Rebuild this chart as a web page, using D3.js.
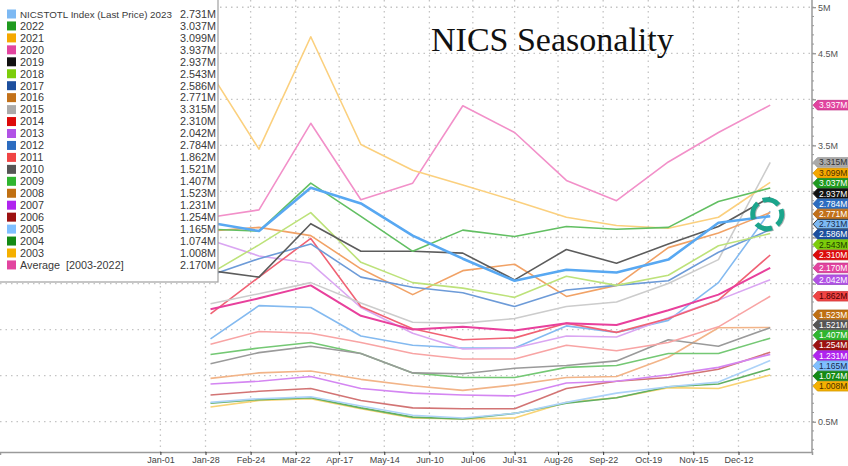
<!DOCTYPE html>
<html><head><meta charset="utf-8">
<script src="https://cdn.jsdelivr.net/npm/d3@7"></script>
<style>body{margin:0;background:#fff;overflow:hidden} svg{display:block;font-family:"Liberation Sans",Arial,sans-serif;}</style>
</head><body><svg id="c" width="848" height="466"></svg>
<script>
// ---- data ----
const monthEnds = ["2024-01-31","2024-02-29","2024-03-31","2024-04-30","2024-05-31","2024-06-30",
  "2024-07-31","2024-08-31","2024-09-30","2024-10-31","2024-11-30","2024-12-31"];
const tickDates = ["2024-01-01","2024-01-28","2024-02-24","2024-03-22","2024-04-17","2024-05-14","2024-06-10",
  "2024-07-06","2024-07-31","2024-08-26","2024-09-22","2024-10-19","2024-11-15","2024-12-12"];
const tickLabels = ["Jan-01","Jan-28","Feb-24","Mar-22","Apr-17","May-14","Jun-10","Jul-06","Jul-31",
  "Aug-26","Sep-22","Oct-19","Nov-15","Dec-12"];
const yTicks = [0.5,1,1.5,2,2.5,3,3.5,4,4.5,5];

const s2023 = [2.66,2.57,3.04,2.87,2.52,2.27,2.03,2.15,2.12,2.26,2.66,2.731];
const s2022 = [2.59,2.57,3.09,2.73,2.35,2.58,2.51,2.62,2.59,2.61,2.89,3.037];
const s2021 = [4.29,3.46,4.68,3.51,3.23,3.07,2.90,2.72,2.63,2.60,2.72,3.099];
const s2020 = [2.72,2.80,3.74,2.91,3.09,3.93,3.64,3.12,2.90,3.32,3.64,3.937];
const s2019 = [2.14,2.07,2.65,2.35,2.35,2.33,2.04,2.37,2.22,2.43,2.62,2.937];
const s2018 = [2.11,2.42,2.77,2.23,2.01,1.95,1.85,2.08,1.98,2.09,2.41,2.543];
const s2017 = [2.09,2.27,2.43,2.07,1.96,1.90,1.75,1.93,1.98,2.03,2.34,2.586];
const s2016 = [2.57,2.61,2.52,2.16,1.88,2.14,2.21,1.86,1.98,2.39,2.55,2.771];
const s2015 = [1.78,1.89,2.01,1.79,1.58,1.57,1.62,1.75,1.80,2.00,2.26,3.315];
const s2014 = [1.67,2.07,2.49,1.75,1.51,1.39,1.41,1.57,1.47,1.62,1.82,2.310];
const s2013 = [2.47,2.30,2.22,1.74,1.46,1.29,1.30,1.43,1.42,1.63,1.82,2.042];
const s2012 = [1.40,1.76,1.74,1.43,1.33,1.30,1.30,1.54,1.47,1.60,2.01,2.784];
const s2011 = [1.34,1.48,1.46,1.36,1.24,1.18,1.18,1.33,1.27,1.36,1.53,1.862];
const s2010 = [1.13,1.25,1.32,1.24,1.03,1.02,1.08,1.11,1.16,1.39,1.32,1.521];
const s2009 = [1.23,1.30,1.36,1.24,1.03,0.98,0.98,1.09,1.11,1.24,1.24,1.407];
const s2008 = [0.97,1.03,1.05,0.96,0.89,0.84,0.90,0.98,0.99,1.20,1.52,1.523];
const s2007 = [0.91,0.94,0.99,0.86,0.81,0.79,0.78,0.92,0.94,1.01,1.09,1.231];
const s2006 = [0.79,0.83,0.86,0.73,0.65,0.64,0.64,0.86,0.94,0.98,1.07,1.254];
const s2005 = [0.71,0.75,0.77,0.67,0.57,0.54,0.59,0.71,0.81,0.88,0.93,1.165];
const s2004 = [0.70,0.74,0.76,0.65,0.55,0.53,0.59,0.70,0.76,0.88,0.91,1.074];
const s2003 = [0.66,0.73,0.75,0.64,0.54,0.53,0.54,0.71,0.76,0.87,0.86,1.008];
const sAvg  = [1.72,1.84,1.98,1.65,1.50,1.53,1.49,1.57,1.55,1.71,1.88,2.170];

const seriesKeys = ["2023","2022","2021","2020","2019","2018","2017","2016","2015","2014","2013",
  "2012","2011","2010","2009","2008","2007","2006","2005","2004","2003","Average"];
const seriesValues = [s2023,s2022,s2021,s2020,s2019,s2018,s2017,s2016,s2015,s2014,s2013,
  s2012,s2011,s2010,s2009,s2008,s2007,s2006,s2005,s2004,s2003,sAvg];
const legendNames = ["NICSTOTL Index (Last Price) 2023","2022","2021","2020","2019","2018","2017","2016",
  "2015","2014","2013","2012","2011","2010","2009","2008","2007","2006","2005","2004","2003","Average"];

// ---- styles ----
const tagColor = {"2023":"#7db9f3","2022":"#1f9a1f","2021":"#f5a800","2020":"#e2449f","2019":"#111111",
  "2018":"#7ccd0a","2017":"#1d4f9e","2016":"#c2711a","2015":"#aaaaaa","2014":"#dd0a0a","2013":"#b152e6",
  "2012":"#2c6cc0","2011":"#f04444","2010":"#555555","2009":"#2fb52f","2008":"#c07012","2007":"#b024ef",
  "2006":"#9c1111","2005":"#7fbfff","2004":"#148a14","2003":"#f5b000","Average":"#e2449f"};
const tagText = {"2023":"#1a2a4a","2018":"#1e3a00","2015":"#333","2011":"#4a0000","2005":"#1a2a4a","2003":"#4a3000","2021":"#4a3000"};
const lineColor = {"2023":"#58a8f2","2022":"#62bf62","2021":"#fbd07e","2020":"#f290c9","2019":"#5c5c5c",
  "2018":"#bde27a","2017":"#6d9bd8","2016":"#f1a266","2015":"#cccccc","2014":"#f06274","2013":"#daa6f2",
  "2012":"#84baf0","2011":"#f8a4a4","2010":"#9a9a9a","2009":"#74c874","2008":"#f2b488","2007":"#d486f2",
  "2006":"#d27474","2005":"#acd2f8","2004":"#62b062","2003":"#f8d374","Average":"#e8409c"};

const svg = d3.select("#c");
const plotRight = 812, plotBottom = 452;
const parse = d3.utcParse("%Y-%m-%d");
const x = d3.scaleUtc().domain([parse("2023-09-27"), parse("2025-01-25")]).range([0, plotRight]);
const y = d3.scaleLinear().domain([0.5, 5]).range([421.7, 7.25]);
const last = s2023.length-1;

// ---- tag layout (spread overlapping tags) ----
const tagH = 10.2;
let tagItems = d3.range(seriesKeys.length).map(i=>({i, ideal:y(seriesValues[i][last])}))
  .sort((a,b)=>a.ideal-b.ideal);
let groups = [];
tagItems.forEach(t=>{
  groups.push({items:[t], sum:t.ideal});
  while (groups.length>1) {
    const g = groups[groups.length-1], p = groups[groups.length-2];
    const gTop = g.sum/g.items.length - (g.items.length-1)*tagH/2;
    const pBot = p.sum/p.items.length + (p.items.length-1)*tagH/2;
    if (gTop - pBot < tagH) { p.items = p.items.concat(g.items); p.sum += g.sum; groups.pop(); }
    else break;
  }
});
groups.forEach(g=>{
  const c = g.sum/g.items.length, n = g.items.length;
  g.items.forEach((t,k)=> t.pos = c - (n-1)*tagH/2 + k*tagH);
});

// grid
const grid = svg.append("g");
grid.selectAll("line.h").data(yTicks).join("line")
  .attr("x1",0).attr("x2",plotRight).attr("y1",d=>y(d)).attr("y2",d=>y(d))
  .attr("stroke","#c4c4c4").attr("stroke-width",1.3).attr("stroke-dasharray","1.5,4");
grid.selectAll("line.v").data(tickDates).join("line")
  .attr("x1",d=>x(parse(d))).attr("x2",d=>x(parse(d))).attr("y1",0).attr("y2",plotBottom)
  .attr("stroke","#c4c4c4").attr("stroke-width",1.3).attr("stroke-dasharray","1.5,4");

// axes
const xAxis = d3.axisBottom(x).tickValues(tickDates.map(parse)).tickFormat((d,i)=>tickLabels[i]).tickSize(3);
const gx = svg.append("g").attr("transform",`translate(0,${plotBottom})`).call(xAxis);
gx.select(".domain").attr("stroke","#9a9a9a").attr("stroke-width",1.5);
gx.selectAll(".tick line").attr("stroke","#333");
gx.selectAll("text").attr("font-size",9).attr("fill","#444").attr("dy","0.55em");

// y tick labels hidden where a value tag covers them (as in the reference)
const covered = v => tagItems.some(t=>Math.abs(t.pos - y(v)) < tagH);
const yAxis = d3.axisRight(y).tickValues(yTicks).tickFormat(d=> covered(d) ? "" : d+"M").tickSize(4);
const gy = svg.append("g").attr("transform",`translate(${plotRight},0)`).call(yAxis);
gy.select(".domain").remove();
gy.selectAll(".tick line").attr("stroke","#777");
gy.selectAll("text").attr("font-size",9).attr("fill","#555").attr("x",6);
svg.append("line").attr("x1",plotRight).attr("x2",plotRight).attr("y1",0).attr("y2",plotBottom)
  .attr("stroke","#9a9a9a").attr("stroke-width",1.5);
const minor = d3.range(0.2, 5.01, 0.1).map(v=>+v.toFixed(1));
svg.append("g").selectAll("line").data(minor).join("line")
  .attr("x1",plotRight).attr("x2",plotRight+2).attr("y1",d=>y(d)).attr("y2",d=>y(d))
  .attr("stroke","#999");

// lines
const dates = monthEnds.map(parse);
const line = d3.line().x((d,i)=>x(dates[i])).y(d=>y(d));
const order = d3.range(seriesKeys.length).reverse().filter(i=>seriesKeys[i]!=="Average" && seriesKeys[i]!=="2023");
order.push(seriesKeys.indexOf("Average"), seriesKeys.indexOf("2023"));
svg.append("g").selectAll("path").data(order).join("path")
  .attr("d", i=>line(seriesValues[i]))
  .attr("fill","none")
  .attr("stroke", i=>lineColor[seriesKeys[i]])
  .attr("stroke-width", i=> seriesKeys[i]==="2023" ? 2.6 : (seriesKeys[i]==="Average" ? 2 : 1.6))
  .attr("stroke-linejoin","round");

// highlight circle at last 2023 point
const cx = x(dates[last])-3, cy = y(s2023[last])-2;
svg.append("circle").attr("cx",cx+0.8).attr("cy",cy+0.8).attr("r",14.5)
  .attr("fill","none").attr("stroke","#555").attr("stroke-opacity",0.45).attr("stroke-width",5)
  .attr("stroke-dasharray","17,5.8").attr("transform",`rotate(-20 ${cx} ${cy})`);
svg.append("circle").attr("cx",cx).attr("cy",cy).attr("r",14.5)
  .attr("fill","none").attr("stroke","#1ba58c").attr("stroke-width",5)
  .attr("stroke-dasharray","17,5.8").attr("transform",`rotate(-20 ${cx} ${cy})`);

// right value tags
const tags = svg.append("g").selectAll("g").data(tagItems).join("g")
  .attr("transform", t=>`translate(${plotRight+1},${t.pos})`);
tags.append("path")
  .attr("d","M0,0 L4.5,-4.8 L40,-4.8 L40,4.8 L4.5,4.8 Z")
  .attr("fill", t=>tagColor[seriesKeys[t.i]])
  .attr("stroke", t=> seriesKeys[t.i]==="2023" ? "#111" : d3.color(tagColor[seriesKeys[t.i]]).darker(0.4))
  .attr("stroke-width",0.8).attr("stroke-linejoin","round");
tags.append("text").attr("x",6).attr("y",3).attr("font-size",8.5)
  .attr("fill", t=> tagText[seriesKeys[t.i]] || "#fff")
  .text(t=> seriesValues[t.i][last].toFixed(3)+"M");

// title
svg.append("text").attr("x",431).attr("y",51).attr("font-family","'Liberation Serif','Times New Roman',serif")
  .attr("font-size",34).attr("fill","#111").text("NICS Seasonality");

// legend
const lg = svg.append("g");
lg.append("rect").attr("x",-1).attr("y",-1).attr("width",219).attr("height",283)
  .attr("fill","#fff").attr("stroke","#a0a0a0").attr("stroke-width",1.2);
const rows = lg.selectAll("g.row").data(d3.range(seriesKeys.length)).join("g")
  .attr("transform", i=>`translate(0,${14 + i*11.95})`);
rows.append("rect").attr("x",7).attr("y",-4.5).attr("width",9).attr("height",9)
  .attr("fill", i=>tagColor[seriesKeys[i]]);
rows.append("text").attr("x",20).attr("y",3.8)
  .attr("font-size", i=> i===0 ? 9.8 : 10.8).attr("fill","#3a3a3a")
  .text(i=>legendNames[i]);
rows.filter(i=>seriesKeys[i]==="Average").append("text").attr("x",66).attr("y",3.8)
  .attr("font-size",10.8).attr("fill","#3a3a3a").text("[2003-2022]");
rows.append("text").attr("x",216).attr("y",3.8).attr("text-anchor","end")
  .attr("font-size",10.8).attr("fill","#3a3a3a")
  .text(i=> seriesValues[i][last].toFixed(3)+"M");
</script></body></html>
